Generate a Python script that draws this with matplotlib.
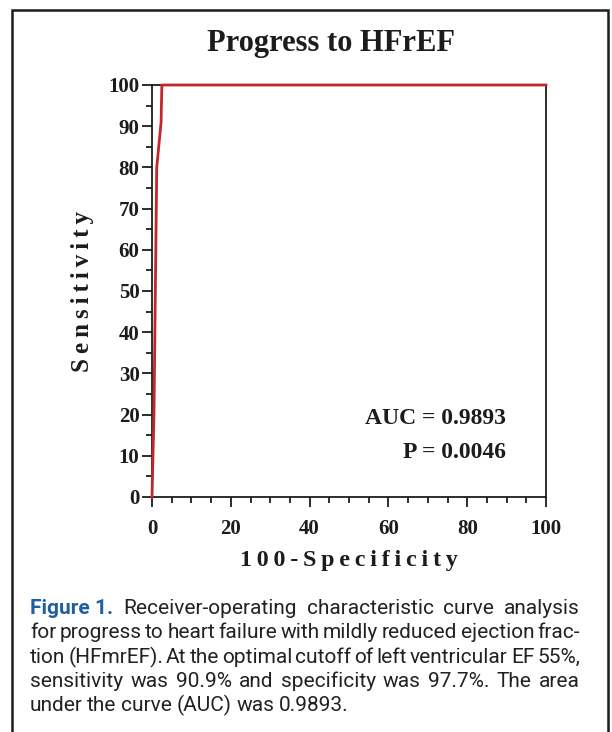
import matplotlib.pyplot as plt
from matplotlib.patches import Rectangle
from matplotlib.ticker import MultipleLocator

# ROC curve points
fpr = [0, 0.5, 1.2, 2.3, 2.5, 100]
tpr = [0, 20, 80, 90.9, 100, 100]

auc_text = "AUC = 0.9893"
p_text = "P = 0.0046"
title = "Progress to HFrEF"

caption_lines = [
	"Receiver-operating characteristic curve analysis",
	"for progress to heart failure with mildly reduced ejection frac-",
	"tion (HFmrEF). At the optimal cutoff of left ventricular EF 55%,",
	"sensitivity was 90.9% and specificity was 97.7%. The area",
	"under the curve (AUC) was 0.9893.",
]

SERIF = ['Liberation Serif', 'DejaVu Serif']
SANS = ['Roboto', 'Liberation Sans', 'DejaVu Sans']
W, H = 612, 732
INK = '#1c1c1c'


def spaced(s):
	return "\u2009".join(s)


fig = plt.figure(figsize=(6.12, 7.32), dpi=100)
fig.patch.set_facecolor('white')

# outer box around the whole figure
fig.add_artist(Rectangle((12 / W, -0.05), 596 / W, 1.05 - 10 / H, transform=fig.transFigure,
	fill=False, edgecolor=INK, linewidth=1.8))

ax = fig.add_axes([152 / W, 1 - 497 / H, 394 / W, 412 / H])
ax.plot(fpr, tpr, color='#c4262b', linewidth=2.0, clip_on=False, zorder=3)
ax.set_xlim(0, 100)
ax.set_ylim(0, 100)

ax.xaxis.set_major_locator(MultipleLocator(20))
ax.xaxis.set_minor_locator(MultipleLocator(5))
ax.yaxis.set_major_locator(MultipleLocator(10))
ax.yaxis.set_minor_locator(MultipleLocator(5))
ax.tick_params(which='major', length=7, width=1.3, direction='out', pad=2, colors=INK)
ax.tick_params(which='minor', length=4, width=1.3, direction='out', colors=INK)
ax.tick_params(axis='x', which='major', pad=9)
for sp in ax.spines.values():
	sp.set_linewidth(1.3)
	sp.set_color(INK)

for lab in ax.get_xticklabels() + ax.get_yticklabels():
	lab.set_fontfamily(SERIF)
	lab.set_fontweight('bold')
	lab.set_fontsize(15)

ax.set_xlabel(spaced("100-Specificity"), fontfamily=SERIF, fontweight='bold', fontsize=17.3,
	color=INK, labelpad=8)
ax.set_ylabel(spaced("Sensitivity"), fontfamily=SERIF, fontweight='bold', fontsize=18,
	color=INK, labelpad=10)

fig.text(331 / W, 1 - 44 / H, title, ha='center', va='center', fontfamily=SERIF,
	fontweight='bold', fontsize=22, color=INK)

ax.text(506 / W, 1 - 419 / H, auc_text, transform=fig.transFigure, ha='right', va='center',
	fontfamily=SERIF, fontweight='bold', fontsize=17, color=INK)
ax.text(506 / W, 1 - 452 / H, p_text, transform=fig.transFigure, ha='right', va='center',
	fontfamily=SERIF, fontweight='bold', fontsize=17, color=INK)

# caption, justified by placing words one by one
left, right = 30 / W, 580 / W
baselines = [614, 638, 663, 687, 711]
renderer = fig.canvas.get_renderer()
inv = fig.transFigure.inverted()


def width_of(t):
	bb = t.get_window_extent(renderer=renderer)
	return inv.transform((bb.x1, 0))[0] - inv.transform((bb.x0, 0))[0]


for i, line in enumerate(caption_lines):
	y = 1 - baselines[i] / H
	items = []
	if i == 0:
		items.append(fig.text(0, y, "Figure 1.", ha='left', va='baseline', fontfamily=SANS,
			fontweight='bold', fontsize=15, color='#1f5fa0'))
	for w in line.split(' '):
		items.append(fig.text(0, y, w, ha='left', va='baseline', fontfamily=SANS,
			fontsize=15, color='#222222'))
	widths = [width_of(t) for t in items]
	if i < len(caption_lines) - 1:
		gap = (right - left - sum(widths)) / (len(items) - 1)
	else:
		gap = 4.5 / W
	x = left
	for t, w in zip(items, widths):
		t.set_x(x)
		x += w + gap

fig.savefig("out.png", dpi=100, facecolor='white')
